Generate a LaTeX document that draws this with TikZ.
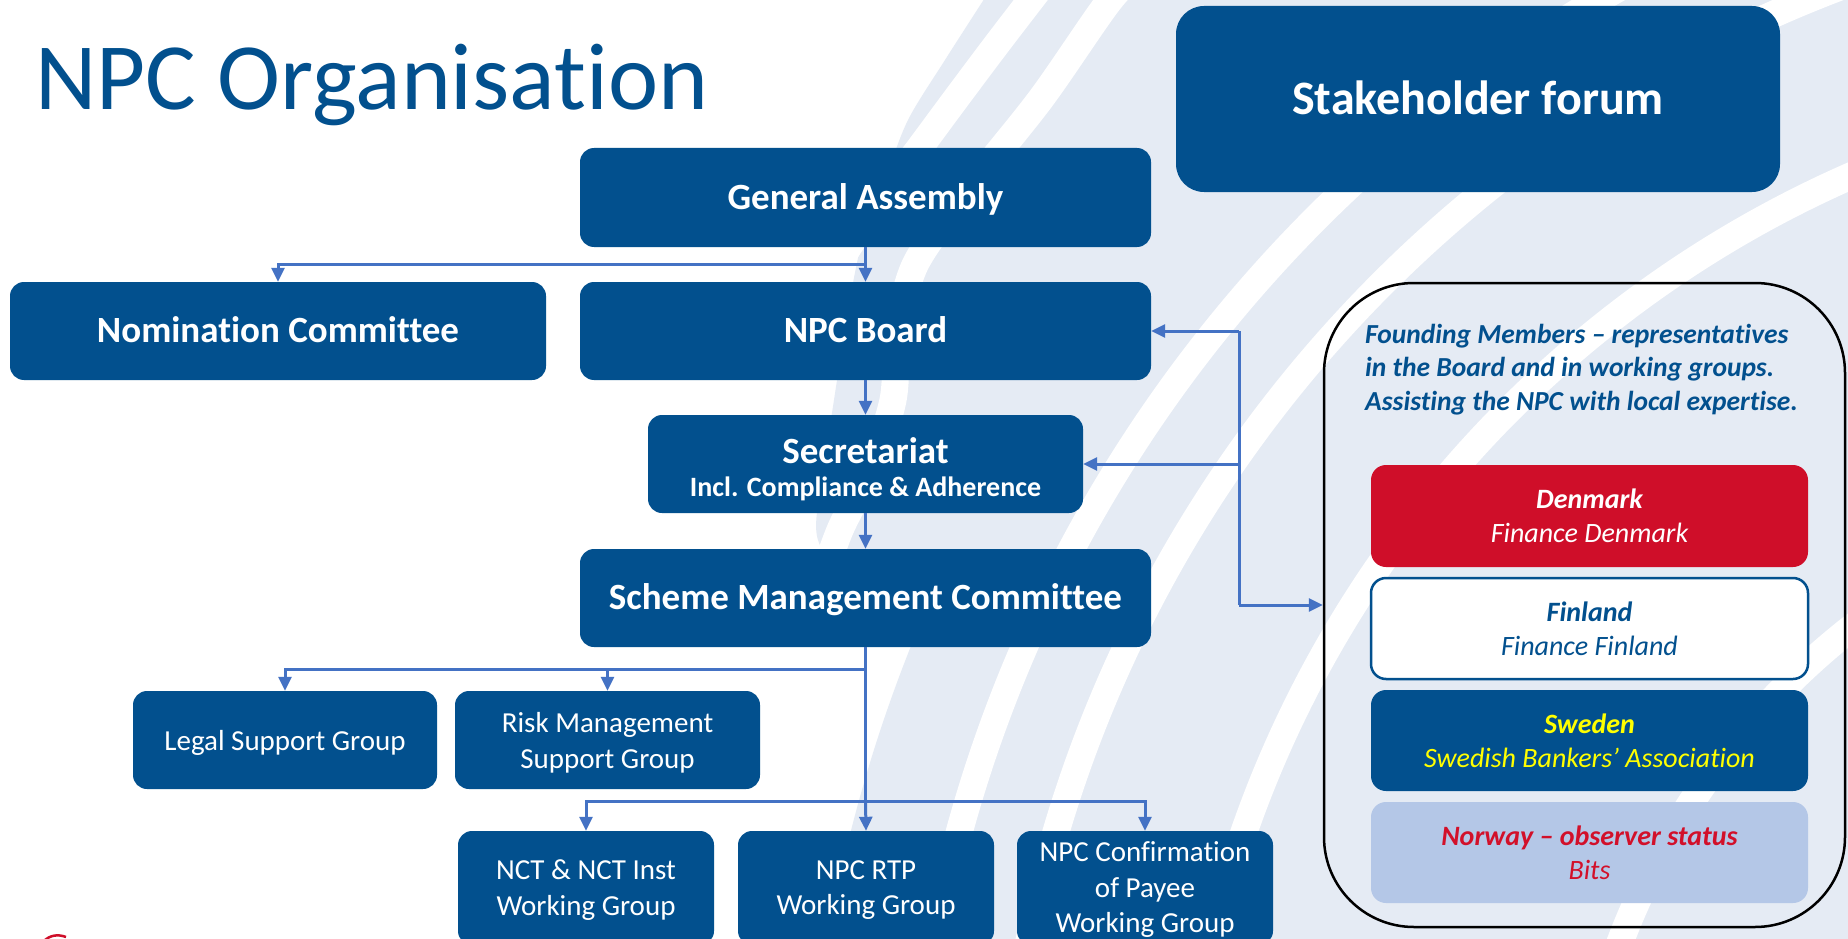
\documentclass[tikz,border=0pt]{standalone}
\usepackage{fontspec}
\setmainfont{Carlito}[Ligatures=CommonOff]
\usetikzlibrary{arrows.meta}
\definecolor{npcblue}{RGB}{2,80,142}
\definecolor{arrowblue}{RGB}{68,114,196}
\definecolor{bglight}{RGB}{229,235,244}
\definecolor{dkred}{RGB}{207,14,41}
\definecolor{nwblue}{RGB}{180,199,231}
\definecolor{nwred}{RGB}{210,16,42}
\definecolor{swyellow}{RGB}{255,255,0}
\begin{document}
\begin{tikzpicture}[x=1pt,y=-1pt,
  box/.style={fill=npcblue, rounded corners=14pt, text=white, align=center, inner sep=0pt},
  bigbox/.style={box, font=\fontsize{37}{44}\selectfont\bfseries, text height=26pt, text depth=2.2pt},
  boxtext/.style={text=white, align=center, inner sep=0pt, font=\fontsize{29}{35.5}\selectfont},
  country/.style={rounded corners=15pt, align=center, inner sep=0pt, minimum width=437pt, font=\fontsize{28}{34}\selectfont\itshape},
  conn/.style={draw=arrowblue, line width=3pt},
  arr/.style={conn, -{Triangle[length=14pt,width=13pt]}},
  stripe/.style={draw=white, line width=27pt},
]
\useasboundingbox (0,0) rectangle (1848,939);
\begin{scope}
\clip (0,0) rectangle (1848,939);
\fill[white] (0,0) rectangle (1848,939);
\fill[bglight] (2300,1200) circle[radius=1495pt];
\fill[bglight] plot[smooth] coordinates {(990,-10) (945,60) (908,120) (885,180) (860,250) (845,330) (834,400) (822,480) (818,540) (860,600) (931,600)} -- (979,500) -- (1134,265) -- (1420,-10) -- cycle;
\draw[stripe] plot[smooth] coordinates {(1050,-25) (1000,40) (955,100) (918,150) (880,200) (840,260)};
\draw[stripe] plot[smooth] coordinates {(1150,-40) (1110,0) (1040,100) (960,200) (915,265) (898,330) (893,400) (870,470) (840,530) (815,600)};
\draw[stripe] (2300,1200) circle[radius=1390pt];
\draw[stripe] (2300,1200) circle[radius=1297pt];
\draw[stripe] (2300,1200) circle[radius=1118pt];
\draw[stripe] (2300,1200) circle[radius=727pt];
\draw[dkred, line width=2.5pt] (44,941) .. controls (50,935) and (58,934) .. (66,937);
\end{scope}

\node[anchor=base west, text=npcblue, font=\fontsize{95}{100}\selectfont, inner sep=0pt] (title) at (35,110) {NPC Organisation};

\node[bigbox, minimum width=571pt, minimum height=99pt] (ga) at (865.5,197.5) {General Assembly};
\node[bigbox, minimum width=536pt, minimum height=98pt] (nc) at (278,331) {Nomination Committee};
\node[bigbox, minimum width=571pt, minimum height=98pt] (board) at (865.5,331) {NPC Board};
\node[box, minimum width=435pt, minimum height=98pt] (sec) at (865.5,464) {};
\node[text=white, inner sep=0pt, font=\fontsize{37}{44}\selectfont\bfseries] (sectitle) at (865.5,451) {Secretariat};
\node[text=white, inner sep=0pt, font=\fontsize{28}{34}\selectfont\bfseries] (secsub) at (865.5,489) {Incl. Compliance \& Adherence};
\node[bigbox, minimum width=571pt, minimum height=98pt] (smc) at (865.5,598) {Scheme Management Committee};

\node[box, minimum width=304pt, minimum height=98pt] (legal) at (285,740) {};
\node[boxtext] (legalt) at (285,743) {Legal Support Group};
\node[box, minimum width=305pt, minimum height=98pt] (risk) at (607.5,740) {};
\node[boxtext] (riskt) at (607.5,743) {Risk Management\\Support Group};
\node[box, minimum width=256pt, minimum height=114pt] (nct) at (586,888) {};
\node[boxtext] (nctt) at (586,890) {NCT \& NCT Inst\\Working Group};
\node[box, minimum width=256pt, minimum height=114pt] (rtp) at (866,888) {};
\node[boxtext] (rtpt) at (866,890) {NPC RTP\\Working Group};
\node[box, minimum width=256pt, minimum height=114pt] (conf) at (1145,888) {};
\node[boxtext] (conft) at (1145,890) {NPC Confirmation\\of Payee\\Working Group};

\node[box, rounded corners=28pt, minimum width=604pt, minimum height=186pt, font=\fontsize{48}{56}\selectfont\bfseries, text height=33pt, text depth=2.1pt] (sf) at (1478,99) {Stakeholder forum};

\node[draw=black, line width=2.5pt, rounded corners=90pt, minimum width=521pt, minimum height=644pt, inner sep=0pt] (fm) at (1584.5,605) {};
\node[anchor=west, align=left, inner sep=0pt, text=npcblue, font=\fontsize{27.5}{33.5}\selectfont\bfseries\itshape] (fmtext) at (1365,369.5) {Founding Members -- representatives\\in the Board and in working groups.\\Assisting the NPC with local expertise.};

\node[country, fill=dkred, text=white, minimum height=102pt] (dk) at (1589.5,516) {{\bfseries Denmark}\\Finance Denmark};
\node[country, fill=white, draw=npcblue, line width=2.5pt, text=npcblue, minimum height=101pt] (fi) at (1589.5,628.5) {{\bfseries Finland}\\Finance Finland};
\node[country, fill=npcblue, text=swyellow, minimum height=101pt] (se) at (1589.5,740.5) {{\bfseries Sweden}\\Swedish Bankers’ Association};
\node[country, fill=nwblue, text=nwred, minimum height=101pt] (no) at (1589.5,852.5) {{\bfseries Norway -- observer status}\\Bits};

\coordinate (j1) at (865.5,264);
\draw[conn] (ga.south) -- (j1);
\draw[arr] (j1) -- (board.north);
\draw[arr] (j1) -| (nc.north);
\draw[arr] (board.south) -- (sec.north);
\draw[arr] (sec.south) -- (smc.north);
\coordinate (j2) at (865.5,669);
\coordinate (j3) at (865.5,801);
\draw[conn] (smc.south) -- (j3);
\draw[arr] (j2) -| (legal.north);
\draw[arr] (j2) -| (risk.north);
\draw[arr] (j3) -- (rtp.north);
\draw[arr] (j3) -| (nct.north);
\draw[arr] (j3) -| (conf.north);
\coordinate (r1) at (1239,331);
\coordinate (r2) at (1239,464);
\coordinate (r3) at (1239,605);
\draw[conn] (r1) -- (r3);
\draw[arr] (r1) -- (board.east);
\draw[arr] (r2) -- (sec.east);
\draw[arr] (r3) -- (fm.west);
\end{tikzpicture}
\end{document}
